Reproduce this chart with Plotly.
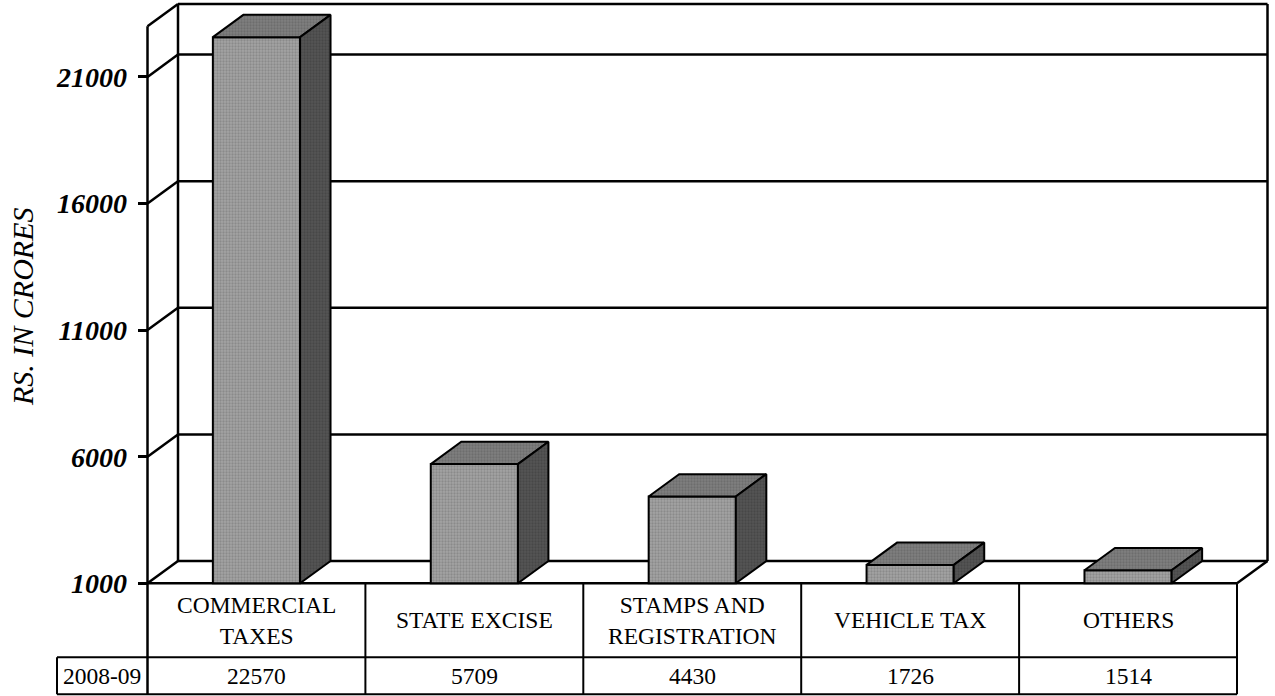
import plotly.graph_objects as go

# ---------------- data ----------------
categories = ["COMMERCIAL<br>TAXES", "STATE EXCISE", "STAMPS AND<br>REGISTRATION", "VEHICLE TAX", "OTHERS"]
values = [22570, 5709, 4430, 1726, 1514]
series_label = "2008-09"
y_ticks = [1000, 6000, 11000, 16000, 21000]
y_title = "RS. IN CRORES"

# ---------------- geometry / style ----------------
W, H = 1275, 696
X_LEFT_PX = 147.5          # front-left axis position (px)
CAT_PX = 217.9             # width of one category (px)
Y_BASE = 1000              # axis minimum (floor)
WALL_TOP = 23000           # top of the walls
Y_BASE_PX = 583.3          # pixel row of the floor front edge
PX_PER_UNIT = 126.6 / 5000
DEPTH_X_PX, DEPTH_Y_PX = 30.5, 22.3
LABEL_CELL_LEFT_PX = 57
ROW_PX = [74, 37]          # table row heights in px
BAR_W = 0.4

FONT = "Liberation Serif"
LINE = "black"

n = len(categories)
x_lo, x_hi = -0.5, n - 0.5
x_range = [x_lo - X_LEFT_PX / CAT_PX, x_lo + (W - X_LEFT_PX) / CAT_PX]
y_range = [Y_BASE - (H - Y_BASE_PX) / PX_PER_UNIT, Y_BASE + Y_BASE_PX / PX_PER_UNIT]
dx = DEPTH_X_PX / CAT_PX
dy = DEPTH_Y_PX / PX_PER_UNIT

row1_bot = Y_BASE - ROW_PX[0] / PX_PER_UNIT
row2_bot = row1_bot - ROW_PX[1] / PX_PER_UNIT
x_label_left = x_lo - (X_LEFT_PX - LABEL_CELL_LEFT_PX) / CAT_PX

fig = go.Figure()

# ---------------- walls, floor, grid (behind bars) ----------------
shapes = []


def seg(x0, y0, x1, y1, w=2.5):
    shapes.append(dict(type="line", xref="x", yref="y", x0=x0, y0=y0, x1=x1, y1=y1,
                       line=dict(color=LINE, width=w), layer="below"))


# back wall
seg(x_lo + dx, Y_BASE + dy, x_lo + dx, WALL_TOP + dy)
seg(x_hi + dx, Y_BASE + dy, x_hi + dx, WALL_TOP + dy)
seg(x_lo + dx, WALL_TOP + dy, x_hi + dx, WALL_TOP + dy)
for t in y_ticks:
    seg(x_lo + dx, t + dy, x_hi + dx, t + dy)   # back gridlines (incl. floor back edge)
    seg(x_lo, t, x_lo + dx, t + dy)             # side wall gridlines
# side wall top & front-left edge
seg(x_lo, WALL_TOP, x_lo + dx, WALL_TOP + dy)
seg(x_lo, row2_bot, x_lo, WALL_TOP)
# floor
seg(x_lo, Y_BASE, x_hi, Y_BASE)
seg(x_hi, Y_BASE, x_hi + dx, Y_BASE + dy)

# ---------------- data table ----------------
seg(x_label_left, row1_bot, x_hi, row1_bot, 2)
seg(x_label_left, row2_bot, x_hi, row2_bot, 2)
seg(x_label_left, row2_bot, x_label_left, row1_bot, 2)
for i in range(1, n + 1):
    seg(x_lo + i, row2_bot, x_lo + i, Y_BASE, 2)

TABLE_FONT = dict(family=FONT, size=23.5, color="black")
annotations = []
for i, (c, v) in enumerate(zip(categories, values)):
    annotations.append(dict(x=i, y=(Y_BASE + row1_bot) / 2, xref="x", yref="y",
                            text=c.replace("<br>", "<br style='line-height:27px'>"),
                            showarrow=False, font=TABLE_FONT,
                            xanchor="center", yanchor="middle"))
    annotations.append(dict(x=i, y=(row1_bot + row2_bot) / 2, xref="x", yref="y", text=str(v),
                            showarrow=False, font=TABLE_FONT,
                            xanchor="center", yanchor="middle"))
annotations.append(dict(x=(x_label_left + x_lo) / 2, y=(row1_bot + row2_bot) / 2, xref="x", yref="y",
                        text=series_label, showarrow=False, font=TABLE_FONT,
                        xanchor="center", yanchor="middle"))
annotations.append(dict(x=22 / W, y=1 - 307 / H, xref="paper", yref="paper", text=y_title,
                        textangle=-90, showarrow=False,
                        font=dict(family=FONT, size=30, style="italic", color="black"),
                        xanchor="center", yanchor="middle"))

# ---------------- bars: front faces ----------------
xs = list(range(n))
fig.add_trace(go.Bar(
    x=xs, y=[v - Y_BASE for v in values], base=Y_BASE, width=BAR_W,
    marker=dict(color="#a4a4a4", line=dict(color=LINE, width=2),
                pattern=dict(shape=".", fgcolor="#707070", size=3, solidity=0.45)),
    hoverinfo="skip", showlegend=False))

# ---------------- bars: top and side faces ----------------
for x, v in zip(xs, values):
    l, r = x - BAR_W / 2, x + BAR_W / 2
    fig.add_trace(go.Scatter(
        x=[l, r, r + dx, l + dx, l], y=[v, v, v + dy, v + dy, v],
        mode="lines", fill="toself", fillcolor="#7c7c7c",
        fillpattern=dict(shape=".", fgcolor="#5a5a5a", bgcolor="#808080", size=3, solidity=0.45),
        line=dict(color=LINE, width=2), hoverinfo="skip", showlegend=False))
    fig.add_trace(go.Scatter(
        x=[r, r, r + dx, r + dx, r], y=[Y_BASE, v, v + dy, Y_BASE + dy, Y_BASE],
        mode="lines", fill="toself", fillcolor="#505050",
        fillpattern=dict(shape=".", fgcolor="#3a3a3a", bgcolor="#555555", size=3, solidity=0.45),
        line=dict(color=LINE, width=2), hoverinfo="skip", showlegend=False))

fig.update_layout(
    width=W, height=H, margin=dict(l=0, r=0, t=0, b=0),
    paper_bgcolor="white", plot_bgcolor="white",
    shapes=shapes, annotations=annotations, showlegend=False,
    xaxis=dict(range=x_range, visible=False, fixedrange=True),
    yaxis=dict(range=y_range, anchor="free", position=X_LEFT_PX / W, side="left",
               tickvals=y_ticks, ticktext=[str(t) for t in y_ticks],
               ticks="outside", ticklen=10, tickwidth=2.5, tickcolor=LINE,
               ticklabelstandoff=5,
               showgrid=False, zeroline=False, showline=False, automargin=False,
               tickfont=dict(family=FONT, size=28, weight="bold", style="italic", color="black"),
               fixedrange=True),
)

fig.write_html("out.html", config={"displayModeBar": False},
               post_script="document.body.style.margin='0';document.body.style.overflow='hidden';")
